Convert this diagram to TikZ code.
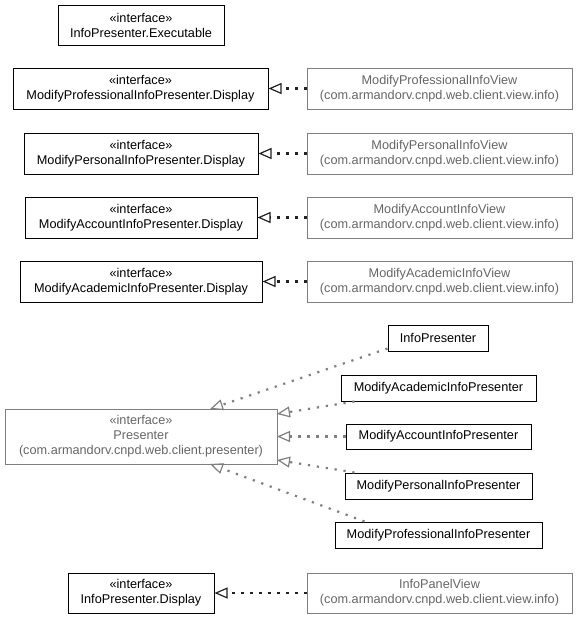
\documentclass[tikz,border=0pt]{standalone}
\usepackage{fontspec}
\setmainfont{Liberation Sans}
\usetikzlibrary{arrows.meta,calc}
\definecolor{pkgtext}{HTML}{666666}
\definecolor{pkgedge}{HTML}{7F7F7F}
\definecolor{dotdark}{HTML}{222222}
\tikzset{
  uml/.style={inner sep=0pt, align=center, fill=white,
    font=\fontsize{12.7}{15}\selectfont},
  iface/.style={uml, draw=black, line width=1pt},
  ext/.style={uml, draw=pkgedge, line width=1pt, text=pkgtext},
  realize/.style={draw=dotdark, line width=2.2pt, dash pattern=on 2.2pt off 6.8pt,
    -{Triangle[open,length=13pt,width=11pt,line width=1.2pt]}},
  realizegray/.style={realize, draw=pkgedge}
}
\begin{document}
\begin{tikzpicture}[x=1pt,y=-1pt]
\useasboundingbox (0,0) rectangle (576,619);

% display interfaces and their views
\node[iface, minimum width=166pt, minimum height=40pt] (exec) at (141,25)
  {«interface»\\InfoPresenter.Executable};

\node[iface, minimum width=255pt, minimum height=41pt] (dprof) at (140.5,88.5)
  {«interface»\\ModifyProfessionalInfoPresenter.Display};
\node[ext, minimum width=265pt, minimum height=41pt] (vprof) at (439.5,88.5)
  {ModifyProfessionalInfoView\\(com.armandorv.cnpd.web.client.view.info)};

\node[iface, minimum width=234pt, minimum height=41pt] (dpers) at (141,153.5)
  {«interface»\\ModifyPersonalInfoPresenter.Display};
\node[ext, minimum width=265pt, minimum height=41pt] (vpers) at (439.5,153.5)
  {ModifyPersonalInfoView\\(com.armandorv.cnpd.web.client.view.info)};

\node[iface, minimum width=232pt, minimum height=41pt] (dacct) at (141,217.5)
  {«interface»\\ModifyAccountInfoPresenter.Display};
\node[ext, minimum width=265pt, minimum height=41pt] (vacct) at (439.5,217.5)
  {ModifyAccountInfoView\\(com.armandorv.cnpd.web.client.view.info)};

\node[iface, minimum width=242pt, minimum height=41pt] (dacad) at (141,281.5)
  {«interface»\\ModifyAcademicInfoPresenter.Display};
\node[ext, minimum width=265pt, minimum height=41pt] (vacad) at (439.5,281.5)
  {ModifyAcademicInfoView\\(com.armandorv.cnpd.web.client.view.info)};

% presenter interface and its implementations
\node[ext, minimum width=272pt, minimum height=55pt] (pres) at (141,436.5)
  {«interface»\\Presenter\\(com.armandorv.cnpd.web.client.presenter)};

\node[iface, minimum width=100pt, minimum height=26pt] (ip) at (438,338) {InfoPresenter};
\node[iface, minimum width=195pt, minimum height=26pt] (mac) at (438.5,388) {ModifyAcademicInfoPresenter};
\node[iface, minimum width=185pt, minimum height=25pt] (mact) at (438.5,436.5) {ModifyAccountInfoPresenter};
\node[iface, minimum width=187pt, minimum height=26pt] (mper) at (438.5,486) {ModifyPersonalInfoPresenter};
\node[iface, minimum width=207pt, minimum height=26pt] (mpro) at (438.5,535) {ModifyProfessionalInfoPresenter};

\node[iface, minimum width=146pt, minimum height=40pt] (dinfo) at (141,593)
  {«interface»\\InfoPresenter.Display};
\node[ext, minimum width=265pt, minimum height=40pt] (vinfo) at (439.5,593)
  {InfoPanelView\\(com.armandorv.cnpd.web.client.view.info)};

% attachment points on the presenter box
\coordinate (ptop) at (210,409);
\coordinate (pr1) at (277,414);
\coordinate (pr2) at (277,436.5);
\coordinate (pr3) at (277,460);
\coordinate (pbot) at (210,464);
\coordinate (macend) at ($(mac.south west)+(14,0)$);
\coordinate (mperend) at ($(mper.north west)+(10,0)$);
\coordinate (mproend) at ($(mpro.north west)+(30,0)$);

% realizations
\draw[realize] (vprof.west) -- (dprof.east);
\draw[realize] (vpers.west) -- (dpers.east);
\draw[realize] (vacct.west) -- (dacct.east);
\draw[realize] (vacad.west) -- (dacad.east);
\draw[realize] (vinfo.west) -- (dinfo.east);

\draw[realizegray] ($(ip.south west)+(0,-3)$) -- (ptop);
\draw[realizegray] (macend) -- (pr1);
\draw[realizegray] (mact.west) -- (pr2);
\draw[realizegray] (mperend) -- (pr3);
\draw[realizegray] (mproend) -- (pbot);
\end{tikzpicture}
\end{document}
